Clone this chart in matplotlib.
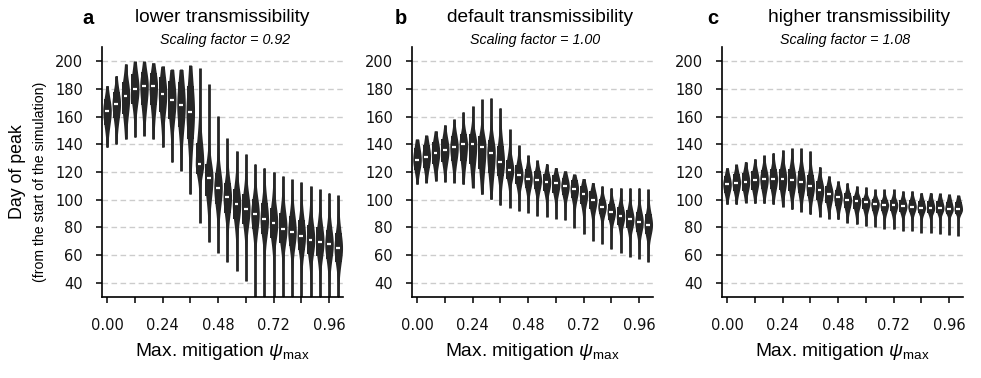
import numpy as np
import matplotlib
matplotlib.use("Agg")
import matplotlib.pyplot as plt
from matplotlib.patches import Rectangle

# ---------------- data ----------------
psi = [0.00, 0.04, 0.08, 0.12, 0.16, 0.20, 0.24, 0.28, 0.32, 0.36, 0.40, 0.44, 0.48,
       0.52, 0.56, 0.60, 0.64, 0.68, 0.72, 0.76, 0.80, 0.84, 0.88, 0.92, 0.96, 1.00]
xtick_labels = ["0.00", "0.24", "0.48", "0.72", "0.96"]

titles = ["lower transmissibility", "default transmissibility", "higher transmissibility"]
letters = ["a", "b", "c"]
scaling = ["0.92", "1.00", "1.08"]

# panel a (scaling 0.92)
med_a = [164.3, 169.4, 175.2, 180.0, 182.4, 182.4, 176.4, 172.0, 168.4, 163.6, 126.0, 115.9, 108.7,
         102.0, 96.9, 93.1, 89.9, 85.8, 83.0, 79.1, 76.9, 73.8, 70.9, 69.7, 67.8, 65.2]
q3_a = [172.8, 178.0, 185.3, 190.8, 192.0, 191.6, 188.4, 186.0, 184.8, 182.4, 141.0, 125.6, 119.5,
        112.3, 107.5, 103.9, 100.3, 97.9, 94.3, 90.7, 88.3, 85.0, 82.0, 80.5, 78.5, 76.0]
q1_a = [154.0, 158.8, 161.9, 169.2, 168.4, 168.0, 163.1, 158.3, 152.3, 143.9, 118.3, 102.7, 96.7,
        90.7, 85.8, 82.2, 78.6, 75.0, 72.6, 69.0, 66.6, 63.5, 61.0, 59.5, 57.5, 55.0]
hi_a = [182.4, 189.6, 198.0, 199.8, 199.8, 198.8, 196.4, 194.0, 194.0, 196.9, 195.0, 183.6, 160.7,
        144.3, 135.4, 133.0, 126.0, 123.2, 120.3, 117.1, 114.7, 112.8, 109.9, 107.5, 105.1, 103.2]
lo_a = [137.8, 140.2, 143.9, 145.0, 146.3, 143.9, 137.8, 127.0, 121.0, 104.1, 83.4, 69.5, 61.8,
        55.0, 48.5, 41.3, 29.0, 28.0, 27.0, 26.0, 25.0, 25.0, 25.0, 25.0, 25.0, 25.0]

# panel b (scaling 1.00)
med_b = [129.0, 131.1, 134.0, 136.0, 137.9, 140.0, 140.0, 137.9, 134.0, 127.0, 121.3, 117.9, 115.3,
         114.3, 112.9, 111.9, 110.0, 108.0, 104.0, 99.9, 95.0, 91.2, 88.1, 85.9, 84.0, 82.0]
q3_b = [137.6, 139.5, 142.0, 144.0, 146.0, 147.3, 147.5, 146.0, 143.0, 138.8, 129.0, 125.0, 122.0,
        120.5, 118.4, 117.5, 116.0, 114.0, 110.0, 106.0, 100.3, 97.0, 94.5, 92.5, 91.0, 89.5]
q1_b = [121.5, 123.0, 125.5, 127.0, 128.0, 128.0, 126.0, 122.0, 119.0, 117.2, 114.8, 111.0, 108.5,
        107.5, 106.4, 105.0, 103.5, 101.0, 97.0, 93.0, 89.5, 85.5, 82.0, 79.5, 77.0, 75.0]
hi_b = [143.7, 146.5, 149.7, 154.0, 158.1, 163.6, 167.7, 172.5, 173.7, 166.5, 150.9, 139.3, 132.1,
        128.5, 126.1, 123.2, 120.8, 118.4, 115.3, 112.4, 110.0, 108.8, 108.8, 108.8, 108.8, 107.6]
lo_b = [111.2, 112.4, 113.6, 112.9, 112.4, 111.2, 108.8, 104.0, 100.3, 96.0, 94.3, 91.9, 90.7,
        88.3, 87.6, 86.4, 85.4, 79.9, 75.1, 70.3, 67.8, 64.2, 61.8, 58.9, 57.5, 55.1]

# panel c (scaling 1.08)
med_c = [111.1, 112.3, 113.0, 114.0, 114.9, 114.9, 115.2, 114.0, 113.0, 109.9, 107.0, 104.4, 102.0,
         100.0, 99.1, 98.1, 96.9, 96.2, 96.2, 95.2, 95.0, 94.2, 94.0, 94.0, 93.0, 93.0]
q3_c = [117.1, 118.5, 119.5, 120.5, 121.5, 121.9, 122.5, 122.0, 121.0, 117.5, 113.5, 110.0, 107.0,
        104.5, 103.0, 101.5, 100.5, 100.0, 100.0, 99.5, 99.5, 99.0, 99.0, 99.0, 98.5, 98.5]
q1_c = [105.0, 106.0, 106.5, 107.0, 107.5, 107.5, 107.0, 106.0, 104.5, 102.5, 100.0, 97.5, 95.5,
        94.0, 93.5, 93.0, 92.0, 91.5, 91.5, 91.0, 91.0, 90.5, 90.5, 90.5, 90.0, 90.0]
hi_c = [123.1, 125.5, 127.5, 129.6, 132.0, 134.0, 135.9, 137.1, 137.1, 135.2, 123.9, 117.1, 113.5,
        112.3, 109.9, 109.2, 107.5, 107.5, 107.5, 106.3, 106.3, 105.1, 105.1, 104.6, 103.9, 103.2]
lo_c = [96.7, 96.7, 97.9, 97.4, 97.4, 96.7, 95.0, 93.0, 91.4, 89.4, 87.8, 86.3, 85.8,
        83.4, 82.2, 81.0, 80.5, 79.1, 78.6, 77.4, 77.4, 76.2, 75.7, 75.0, 74.3, 73.8]

panels = [(med_a, q1_a, q3_a, lo_a, hi_a),
          (med_b, q1_b, q3_b, lo_b, hi_b),
          (med_c, q1_c, q3_c, lo_c, hi_c)]

# ---------------- style ----------------
plt.rcParams["mathtext.fontset"] = "custom"
plt.rcParams["mathtext.rm"] = "Liberation Sans"
plt.rcParams["mathtext.it"] = "Liberation Sans:italic"
SANS = "Liberation Sans"
VCOL = "#262626"
W, H = 981, 378

fig = plt.figure(figsize=(W / 100, H / 100), dpi=100)

def fx(p):
    return p / W

def fy(p):
    return 1 - p / H

ax_left_px = [102.4, 412.4, 722.4]
ax_w_px = 240.5
ax_top_px, ax_bot_px = 47.3, 296.7


def draw_violins(ax, med, q1, q3, lo, hi):
    n = len(med)
    for i in range(n):
        y = np.linspace(lo[i], hi[i], 400)
        s_lo = max(med[i] - q1[i], 1e-3) / 0.765
        s_hi = max(q3[i] - med[i], 1e-3) / 0.765
        z = (y - med[i]) / np.where(y < med[i], s_lo, s_hi)
        w = 0.46 * (1 + z ** 2 / 3.0) ** (-2.0)
        ax.fill_betweenx(y, i - w, i + w, color=VCOL, lw=0, zorder=2)
        ax.vlines(i, lo[i], hi[i], color=VCOL, lw=2.0, zorder=2)
        ax.add_patch(Rectangle((i - 0.36, q1[i]), 0.72, q3[i] - q1[i],
                               color=VCOL, lw=0, zorder=3))
        ax.hlines(med[i], i - 0.2, i + 0.2, color="white", lw=1.6, zorder=4)


for k in range(3):
    l = ax_left_px[k]
    ax = fig.add_axes([fx(l), fy(ax_bot_px), ax_w_px / W, (ax_bot_px - ax_top_px) / H])
    med, q1, q3, lo, hi = panels[k]
    draw_violins(ax, med, q1, q3, lo, hi)
    ax.set_xlim(-0.5, len(psi) - 0.5)
    ax.set_ylim(30, 210)
    ax.set_yticks(np.arange(40, 201, 20))
    ax.yaxis.grid(True, color="#cccccc", lw=1.0, linestyle=(0, (4, 2.5)), zorder=0)
    ax.set_axisbelow(True)
    xt = list(range(0, len(psi) - 1, 3))
    ax.set_xticks(xt)
    labs = []
    j = 0
    for t in xt:
        if t % 6 == 0:
            labs.append(xtick_labels[j])
            j += 1
        else:
            labs.append("")
    ax.set_xticklabels(labs)
    for s in ["top", "right"]:
        ax.spines[s].set_visible(False)
    for s in ["left", "bottom"]:
        ax.spines[s].set_linewidth(1.2)
        ax.spines[s].set_color("black")
    ax.tick_params(axis="both", length=4, width=1.1, labelsize=10.5, colors="black")
    ax.tick_params(axis="x", pad=11.5)
    ax.tick_params(axis="y", pad=10)
    for lab in ax.get_xticklabels() + ax.get_yticklabels():
        lab.set_fontfamily("DejaVu Sans")
        lab.set_color("#111111")

    cx = l + ax_w_px / 2
    letter_x = [88, 401, 713][k]
    title_x = [222, 540, 859][k]
    fig.text(fx(letter_x), fy(18), letters[k], family=SANS, fontweight="bold",
             fontsize=14.5, ha="center", va="center")
    fig.text(fx(title_x), fy(17), titles[k], family=SANS, fontsize=13.8,
             ha="center", va="center")
    fig.text(fx(cx + 2), fy(40), "Scaling factor = " + scaling[k], family=SANS,
             style="italic", fontsize=10.3, ha="center", va="center")
    fig.text(fx(cx), fy(352), r"Max. mitigation $\psi_{\mathrm{max}}$", family=SANS,
             fontsize=13.8, ha="center", va="center")

fig.text(fx(18), fy(172), "Day of peak", family=SANS, fontsize=12.8, rotation=90,
         ha="center", va="center")
fig.text(fx(40), fy(182), "(from the start of the simulation)", family=SANS,
         fontsize=10.2, rotation=90, ha="center", va="center")

fig.savefig("out.png", dpi=100)
